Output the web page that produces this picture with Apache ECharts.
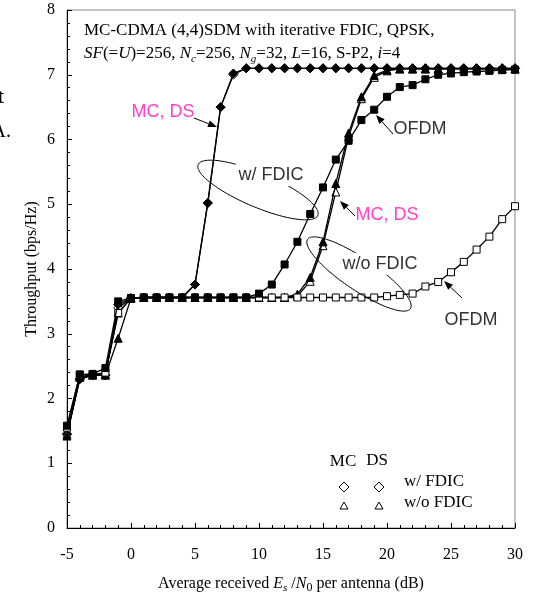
<!DOCTYPE html>
<html>
<head>
<meta charset="utf-8">
<script src="https://cdn.jsdelivr.net/npm/echarts@6/dist/echarts.min.js"></script>
<style>
  html, body { margin: 0; padding: 0; background: #fff; }
  #chart { width: 540px; height: 593px; }
</style>
</head>
<body>
<div id="chart"></div>
<script>
// Es/N0 per antenna (dB), one point per dB
const snr = [-5,-4,-3,-2,-1,0,1,2,3,4,5,6,7,8,9,10,11,12,13,14,15,16,17,18,19,20,21,22,23,24,25,26,27,28,29,30];

// throughput (bps/Hz)
const mcFdic = [1.45,2.30,2.36,2.36,3.45,3.55,3.56,3.56,3.56,3.56,3.76,5.02,6.50,7.02,7.10,7.10,7.10,7.10,7.10,7.10,7.10,7.10,7.10,7.10,7.10,7.10,7.10,7.10,7.10,7.10,7.10,7.10,7.10,7.10,7.10,7.10];
const dsFdic = [1.45,2.30,2.36,2.36,3.40,3.55,3.56,3.56,3.56,3.56,3.76,5.02,6.50,7.00,7.10,7.10,7.10,7.10,7.10,7.10,7.10,7.10,7.10,7.10,7.10,7.10,7.10,7.10,7.10,7.10,7.10,7.10,7.10,7.10,7.10,7.10];
const mcNoFdic = [1.42,2.33,2.36,2.36,2.93,3.55,3.56,3.56,3.56,3.56,3.56,3.56,3.56,3.56,3.56,3.56,3.56,3.56,3.61,3.87,4.42,5.32,6.10,6.66,6.99,7.07,7.09,7.09,7.09,7.09,7.09,7.09,7.09,7.09,7.09,7.09];
const dsNoFdic = [1.45,2.33,2.37,2.38,3.32,3.55,3.56,3.56,3.56,3.56,3.56,3.56,3.56,3.56,3.56,3.56,3.56,3.56,3.58,3.81,4.36,5.19,6.04,6.63,6.96,7.06,7.09,7.09,7.09,7.09,7.09,7.09,7.09,7.09,7.09,7.09];
const ofdmFdic = [1.58,2.37,2.38,2.47,3.50,3.55,3.56,3.56,3.56,3.56,3.56,3.56,3.56,3.56,3.56,3.62,3.76,4.07,4.42,4.85,5.26,5.69,5.98,6.30,6.46,6.66,6.81,6.84,6.93,7.00,7.02,7.04,7.05,7.06,7.07,7.08];
const ofdmNoFdic = [1.55,2.37,2.37,2.40,3.32,3.55,3.56,3.56,3.56,3.56,3.56,3.56,3.56,3.56,3.56,3.56,3.56,3.56,3.56,3.56,3.56,3.56,3.56,3.56,3.56,3.58,3.60,3.62,3.73,3.80,3.95,4.11,4.30,4.50,4.77,4.97];

const chart = echarts.init(document.getElementById('chart'));

const serif = '"Liberation Serif", "Times New Roman", serif';
const sans = '"Liberation Sans", Arial, sans-serif';
const pink = '#ff40cc';

function line(name, ys, symbol, filled, size, z) {
  return {
    name, type: 'line', z,
    data: snr.map((x, i) => [x, ys[i]]),
    symbol, symbolSize: size,
    lineStyle: { color: '#000', width: 1.3 },
    itemStyle: { color: filled ? '#000' : '#fff', borderColor: '#000', borderWidth: 1 },
    emphasis: { disabled: true },
    animation: false
  };
}

function ellipse(cx, cy, a, b, deg) {
  const r = deg * Math.PI / 180, pts = [];
  for (let k = 0; k < 120; k++) {
    const t = k / 120 * 2 * Math.PI;
    const ex = a * Math.cos(t), ey = b * Math.sin(t);
    pts.push([cx + ex * Math.cos(r) - ey * Math.sin(r), cy + ex * Math.sin(r) + ey * Math.cos(r)]);
  }
  return { type: 'polygon', z: 100, shape: { points: pts }, style: { fill: null, stroke: '#000', lineWidth: 1 } };
}

function arrow(x1, y1, x2, y2) {
  const ang = Math.atan2(y2 - y1, x2 - x1), L = 9, W = 3.5;
  const bx = x2 - L * Math.cos(ang), by = y2 - L * Math.sin(ang);
  return [
    { type: 'line', z: 100, shape: { x1, y1, x2: bx, y2: by }, style: { stroke: '#000', lineWidth: 1 } },
    { type: 'polygon', z: 100, shape: { points: [[x2, y2], [bx - W * Math.sin(ang), by + W * Math.cos(ang)], [bx + W * Math.sin(ang), by - W * Math.cos(ang)]] }, style: { fill: '#000' } }
  ];
}

function label(text, x, y, color, bg) {
  return {
    type: 'text', z: 110,
    style: {
      text, x, y, fill: color, font: '18px ' + sans,
      align: 'center', verticalAlign: 'middle',
      backgroundColor: bg ? '#fff' : null, padding: bg ? [2, 3] : 0
    }
  };
}

function diamondMark(cx, cy) {
  return { type: 'polygon', z: 110, shape: { points: [[cx, cy - 5], [cx + 5, cy], [cx, cy + 5], [cx - 5, cy]] }, style: { fill: '#fff', stroke: '#000', lineWidth: 1 } };
}
function triMark(cx, cy) {
  return { type: 'polygon', z: 110, shape: { points: [[cx, cy - 4], [cx + 4, cy + 3], [cx - 4, cy + 3]] }, style: { fill: '#fff', stroke: '#000', lineWidth: 1 } };
}
function serifText(text, x, y, align, size) {
  return { type: 'text', z: 110, style: { text, x, y, fill: '#000', font: (size || 17) + 'px ' + serif, align: align || 'left', verticalAlign: 'middle' } };
}

const option = {
  backgroundColor: '#fff',
  animation: false,
  title: {
    left: 79, top: 14,
    text: '{n|MC-CDMA (4,4)SDM with iterative FDIC, QPSK,}\n' +
      '{i|SF}{n|(=}{i|U}{n|)=256, }{i|N}{s|c}{n|=256, }{i|N}{s|g}{n|=32, }{i|L}{n|=16, S-P2, }{i|i}{n|=4}',
    textStyle: {
      fontWeight: 'normal',
      rich: {
        n: { fontFamily: serif, fontSize: 17, fontWeight: 'normal', color: '#000', lineHeight: 23 },
        i: { fontFamily: serif, fontSize: 17, fontWeight: 'normal', fontStyle: 'italic', color: '#000', lineHeight: 23 },
        s: { fontFamily: serif, fontSize: 11, fontWeight: 'normal', fontStyle: 'italic', color: '#000', lineHeight: 12, verticalAlign: 'bottom' }
      }
    }
  },
  grid: {
    left: 67, right: 25, top: 10, bottom: 65,
    outerBoundsMode: 'none', containLabel: false,
    show: true, borderColor: '#888', borderWidth: 1
  },
  xAxis: {
    type: 'value', min: -5, max: 30, interval: 5,
    name: '{n|Average received }{i|E}{s|s}{n| /}{i|N}{z|0}{n| per antenna (dB)}',
    nameLocation: 'middle', nameGap: 46,
    nameTextStyle: {
      rich: {
        n: { fontFamily: serif, fontSize: 16, color: '#000', lineHeight: 20 },
        i: { fontFamily: serif, fontSize: 16, fontStyle: 'italic', color: '#000', lineHeight: 20 },
        s: { fontFamily: serif, fontSize: 11, fontStyle: 'italic', color: '#000', lineHeight: 12, verticalAlign: 'bottom' },
        z: { fontFamily: serif, fontSize: 12, color: '#000', lineHeight: 13, verticalAlign: 'bottom' }
      }
    },
    axisLine: { onZero: false, lineStyle: { color: '#000', width: 1 } },
    axisTick: { inside: true, length: 5, lineStyle: { color: '#000' } },
    minorTick: { show: true, splitNumber: 5, length: 3, lineStyle: { color: '#000' } },
    axisLabel: { color: '#000', fontFamily: serif, fontSize: 16, margin: 19 },
    splitLine: { show: false }
  },
  yAxis: {
    type: 'value', min: 0, max: 8, interval: 1,
    name: 'Throughput (bps/Hz)', nameLocation: 'middle', nameGap: 27,
    nameMoveOverlap: false,
    nameTextStyle: { color: '#000', fontFamily: serif, fontSize: 16 },
    axisLine: { onZero: false, lineStyle: { color: '#000', width: 1 } },
    axisTick: { inside: true, length: 5, lineStyle: { color: '#000' } },
    minorTick: { show: true, splitNumber: 5, length: 3, lineStyle: { color: '#000' } },
    axisLabel: { color: '#000', fontFamily: serif, fontSize: 16, margin: 12 },
    splitLine: { show: false }
  },
  series: [
    line('DS w/ FDIC', dsFdic, 'diamond', false, 9, 2),
    line('MC w/ FDIC', mcFdic, 'diamond', true, 9, 3),
    line('DS w/o FDIC', dsNoFdic, 'triangle', false, 8, 4),
    line('MC w/o FDIC', mcNoFdic, 'triangle', true, 8, 5),
    line('OFDM w/o FDIC', ofdmNoFdic, 'rect', false, 7, 6),
    line('OFDM w/ FDIC', ofdmFdic, 'rect', true, 7, 7)
  ],
  graphic: [
    ellipse(258, 190, 65, 17, 23),
    ellipse(359, 274, 62, 16, 34),
    ...arrow(194, 118, 217, 127),
    ...arrow(393, 134, 376, 115),
    ...arrow(355, 216, 340, 201),
    ...arrow(462, 298, 444, 281),
    label('MC, DS', 163, 112, pink, false),
    label('w/ FDIC', 271, 175, '#333', true),
    label('OFDM', 420, 129, '#333', false),
    label('MC, DS', 387, 215, pink, false),
    label('w/o FDIC', 380, 264, '#333', true),
    label('OFDM', 471, 320, '#333', false),
    serifText('MC', 343, 462, 'center'),
    serifText('DS', 377, 461, 'center'),
    diamondMark(344, 487), diamondMark(379, 487),
    triMark(344, 506), triMark(379, 506),
    serifText('w/ FDIC', 404, 482),
    serifText('w/o FDIC', 404, 503),
    serifText('t', 4, 97, 'right', 22),
    serifText('A.', 11, 132, 'right', 20)
  ]
};

chart.setOption(option);
window.addEventListener('resize', () => chart.resize());
</script>
</body>
</html>
